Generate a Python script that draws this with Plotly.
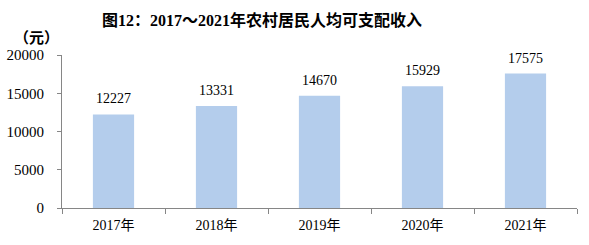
import plotly.graph_objects as go

years = ["2017年", "2018年", "2019年", "2020年", "2021年"]
income = [12227, 13331, 14670, 15929, 17575]
y_ticks = [0, 5000, 10000, 15000, 20000]

FONT = "Liberation Serif, Times New Roman, Noto Sans CJK SC"

fig = go.Figure(go.Bar(
    x=years, y=income,
    marker=dict(color="#B4CDEC", line=dict(width=0)),
))

for yr, v in zip(years, income):
    fig.add_annotation(x=yr, y=v, text=str(v), showarrow=False,
                       yanchor="bottom", yshift=6,
                       font=dict(family=FONT, size=14, color="#000000"))

fig.update_layout(
    width=589, height=245,
    margin=dict(l=62, r=12, t=55, b=37),
    paper_bgcolor="white", plot_bgcolor="white",
    bargap=0.6, showlegend=False,
    font=dict(family=FONT, size=14, color="#000000"),
    title=dict(text="<b>图12：2017～2021年农村居民人均可支配收入</b>",
               x=262/589, xanchor="center", y=1-20/245, yanchor="middle",
               font=dict(family=FONT, size=16, color="#000000")),
)
fig.add_annotation(text="<b>（元）</b>", xref="paper", yref="paper",
                   x=-62/515 + 12/515, y=1+17/153, xanchor="left", yanchor="middle",
                   showarrow=False, font=dict(family=FONT, size=15, color="#000000"))

fig.update_xaxes(showline=True, linecolor="#868686", linewidth=1,
                 ticks="outside", tickson="boundaries", ticklen=5, tickcolor="#868686",
                 showgrid=False, tickfont=dict(family=FONT, size=14),
                 ticklabelstandoff=4, automargin=False)
fig.update_yaxes(range=[0, 20000], tickvals=y_ticks, ticktext=[str(v) for v in y_ticks],
                 showline=True, linecolor="#868686", linewidth=1,
                 ticks="outside", ticklen=4, tickcolor="#868686",
                 showgrid=False, zeroline=False, tickfont=dict(family=FONT, size=15),
                 ticklabelstandoff=10, automargin=False)

fig.write_html("out.html")
